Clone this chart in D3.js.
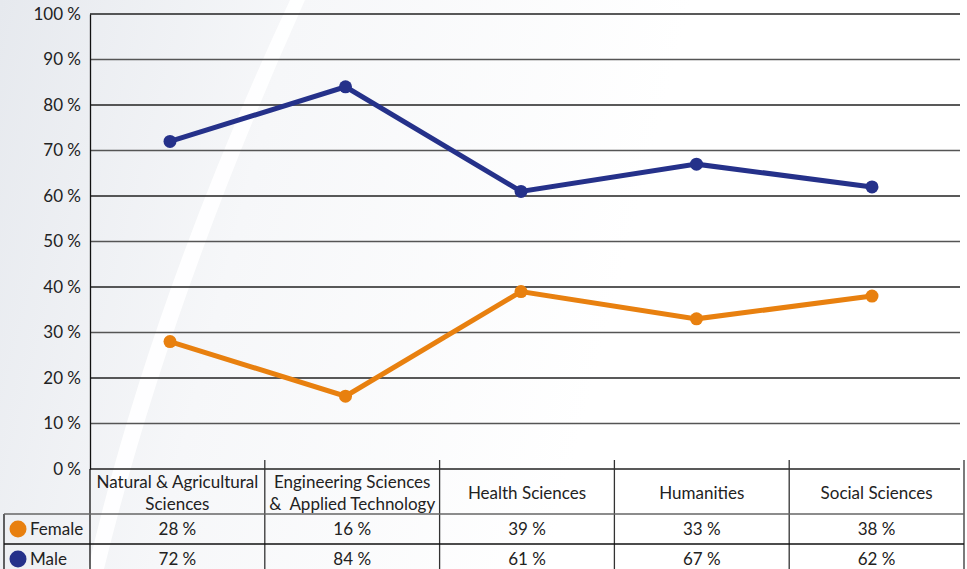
<!DOCTYPE html>
<html>
<head>
<meta charset="utf-8">
<script src="https://cdn.jsdelivr.net/npm/d3@7"></script>
<style>
  body { margin: 0; background: #fff; }
  svg { display: block; font-family: Lato, "Open Sans", sans-serif; }
  text { white-space: pre; }
</style>
</head>
<body>
<div id="chart"></div>
<script>
var W = 967
var H = 569

// data
var categories = [
  ['Natural & Agricultural', 'Sciences'],
  ['Engineering Sciences', '&  Applied Technology'],
  ['Health Sciences'],
  ['Humanities'],
  ['Social Sciences']
]
var seriesNames = ['Female', 'Male']
var female = [28, 16, 39, 33, 38]
var male = [72, 84, 61, 67, 62]
var yTicks = [0, 10, 20, 30, 40, 50, 60, 70, 80, 90, 100]

var COLORS = {Female: '#e8800f', Male: '#25318a'}
var series = [
  {name: 'Female', values: female},
  {name: 'Male', values: male}
]

var PLOT_LEFT = 90
var PLOT_RIGHT = 960
var PLOT_TOP = 14
var PLOT_BOTTOM = 469
var TABLE_RIGHT = 964
var HEAD_BOTTOM = 514
var ROW_H = 30

var svg = d3.select('#chart').append('svg')
  .attr('width', W)
  .attr('height', H)

// background wash
var defs = svg.append('defs')
var grad = defs.append('linearGradient').attr('id', 'bg')
  .attr('x1', 0).attr('y1', 0).attr('x2', 1).attr('y2', 0.15)
grad.append('stop').attr('offset', 0).attr('stop-color', '#e6e9ee')
grad.append('stop').attr('offset', 0.3).attr('stop-color', '#f6f7f9')
grad.append('stop').attr('offset', 0.7).attr('stop-color', '#ffffff')
svg.append('rect').attr('width', W).attr('height', H).attr('fill', 'url(#bg)')
svg.append('path')
  .attr('d', 'M 88 569 Q 150 300 290 0 L 305 0 Q 170 300 104 569 Z')
  .attr('fill', '#ffffff')
  .attr('opacity', 0.9)

var x = d3.scaleBand()
  .domain(d3.range(categories.length))
  .range([PLOT_LEFT, TABLE_RIGHT])

var xp = d3.scalePoint()
  .domain(d3.range(categories.length))
  .range([170, 872])

var y = d3.scaleLinear()
  .domain([0, 100])
  .range([PLOT_BOTTOM, PLOT_TOP])

// gridlines
svg.append('g').selectAll('line')
  .data(yTicks)
  .join('line')
  .attr('x1', PLOT_LEFT)
  .attr('x2', PLOT_RIGHT)
  .attr('y1', function (d) { return y(d) })
  .attr('y2', function (d) { return y(d) })
  .attr('stroke', function (d, i) { return i % 2 ? '#555' : '#222' })
  .attr('stroke-width', 1.5)

// y axis
var yAxis = svg.append('g')
  .attr('transform', 'translate(' + PLOT_LEFT + ',0)')
  .call(d3.axisLeft(y).tickValues(yTicks).tickSize(0).tickPadding(9)
    .tickFormat(function (d) { return d + ' %' }))
yAxis.select('.domain').attr('stroke', '#111').attr('stroke-width', 1.3)
yAxis.selectAll('text')
  .attr('font-size', 17)
  .attr('fill', '#222')
  .attr('font-family', 'Lato, sans-serif')

// lines
var line = d3.line()
  .x(function (d, i) { return xp(i) })
  .y(function (d) { return y(d) })

var g = svg.append('g')
series.forEach(function (s) {
  g.append('path')
    .datum(s.values)
    .attr('d', line)
    .attr('fill', 'none')
    .attr('stroke', COLORS[s.name])
    .attr('stroke-width', 5)
  g.selectAll('circle.' + s.name)
    .data(s.values)
    .join('circle')
    .attr('class', s.name)
    .attr('cx', function (d, i) { return xp(i) })
    .attr('cy', function (d) { return y(d) })
    .attr('r', 6.5)
    .attr('fill', COLORS[s.name])
})

// data table
var t = svg.append('g').attr('font-size', 17).attr('fill', '#222')

// vertical dividers
var colEdges = d3.range(categories.length).map(function (i) { return x(i) + x.bandwidth() })
t.selectAll('line.col')
  .data(colEdges)
  .join('line')
  .attr('class', 'col')
  .attr('x1', function (d) { return d })
  .attr('x2', function (d) { return d })
  .attr('y1', PLOT_BOTTOM - 9)
  .attr('y2', H)
  .attr('stroke', '#333')
  .attr('stroke-width', 1.3)

t.append('line')
  .attr('x1', PLOT_LEFT).attr('x2', PLOT_LEFT)
  .attr('y1', PLOT_BOTTOM).attr('y2', H)
  .attr('stroke', '#111').attr('stroke-width', 1.3)
t.append('line')
  .attr('x1', 4).attr('x2', 4)
  .attr('y1', HEAD_BOTTOM).attr('y2', H)
  .attr('stroke', '#111').attr('stroke-width', 1.3)

// horizontal row lines
var rowLines = [HEAD_BOTTOM, HEAD_BOTTOM + ROW_H]
t.selectAll('line.row')
  .data(rowLines)
  .join('line')
  .attr('class', 'row')
  .attr('x1', 4)
  .attr('x2', TABLE_RIGHT)
  .attr('y1', function (d) { return d })
  .attr('y2', function (d) { return d })
  .attr('stroke', function (d, i) { return i ? '#111' : '#666' })
  .attr('stroke-width', 1.5)

// header labels
categories.forEach(function (lines, i) {
  var cx = x(i) + x.bandwidth() / 2
  var mid = (PLOT_BOTTOM + HEAD_BOTTOM) / 2 + 1.5
  var start = mid - (lines.length - 1) * 11
  lines.forEach(function (txt, j) {
    t.append('text')
      .attr('x', cx)
      .attr('y', start + j * 22)
      .attr('dy', '0.35em')
      .attr('text-anchor', 'middle')
      .text(txt)
  })
})

// value rows
series.forEach(function (s, r) {
  var cy = HEAD_BOTTOM + ROW_H * r + ROW_H / 2
  t.append('circle')
    .attr('cx', 18).attr('cy', cy).attr('r', 8.5)
    .attr('fill', COLORS[s.name])
  t.append('text')
    .attr('x', 30).attr('y', cy).attr('dy', '0.35em')
    .text(seriesNames[r])
  t.selectAll('text.v' + r)
    .data(s.values)
    .join('text')
    .attr('class', 'v' + r)
    .attr('x', function (d, i) { return x(i) + x.bandwidth() / 2 })
    .attr('y', cy)
    .attr('dy', '0.35em')
    .attr('text-anchor', 'middle')
    .text(function (d) { return d + ' %' })
})
</script>
</body>
</html>
